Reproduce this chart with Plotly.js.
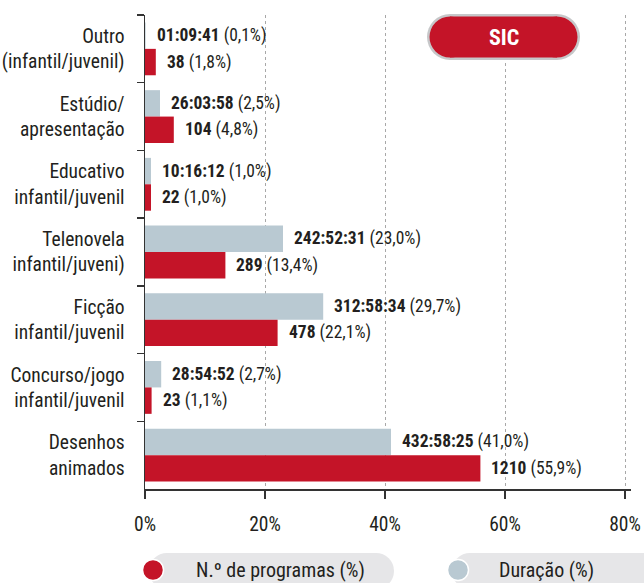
<!DOCTYPE html>
<html>
<head>
<meta charset="utf-8">
<script src="https://cdn.plot.ly/plotly-3.0.1.min.js"></script>
<style>
html,body{margin:0;padding:0;background:#fff;}
#chart{width:644px;height:583px;}
</style>
</head>
<body>
<div id="chart"></div>
<script>
const categories = [
  "Outro<br>(infantil/juvenil)",
  "Estúdio/<br>apresentação",
  "Educativo<br>infantil/juvenil",
  "Telenovela<br>infantil/juveni)",
  "Ficção<br>infantil/juvenil",
  "Concurso/jogo<br>infantil/juvenil",
  "Desenhos<br>animados"
];
const durationPct = [0.1, 2.5, 1.0, 23.0, 29.7, 2.7, 41.0];
const durationTime = ["01:09:41", "26:03:58", "10:16:12", "242:52:31", "312:58:34", "28:54:52", "432:58:25"];
const programsPct = [1.8, 4.8, 1.0, 13.4, 22.1, 1.1, 55.9];
const programsCount = [38, 104, 22, 289, 478, 23, 1210];
const xTicks = [0, 20, 40, 60, 80];
const xTickLabels = ["0%", "20%", "40%", "60%", "80%"];
const legendNames = ["N.º de programas (%)", "Duração (%)"];
const badgeText = "SIC";

const FONT = '"Roboto Condensed", "DejaVu Sans Condensed", sans-serif';
const TXT = '#231f20';
const RED = '#c41428';
const BLUE = '#b9c9d2';

const W = 644, H = 583;
const M = {l: 145, r: 13, t: 15, b: 94};
const PW = W - M.l - M.r, PH = H - M.t - M.b;
const px = x => (x - M.l) / PW;
const py = y => (H - M.b - y) / PH;
const fmt = v => v.toFixed(1).replace('.', ',');

const traces = [
  {type: 'bar', orientation: 'h', y: categories, x: durationPct, name: legendNames[1],
   marker: {color: BLUE}, hoverinfo: 'skip'},
  {type: 'bar', orientation: 'h', y: categories, x: programsPct, name: legendNames[0],
   marker: {color: RED}, hoverinfo: 'skip'}
];

const annotations = [];
categories.forEach((c, i) => {
  annotations.push({x: durationPct[i], y: c, xref: 'x', yref: 'y', xanchor: 'left', yanchor: 'middle',
    xshift: 9, yshift: 13.2, showarrow: false,
    text: '<b>' + durationTime[i] + '</b> (' + fmt(durationPct[i]) + '%)',
    font: {family: FONT, size: 17.5, color: TXT}});
  annotations.push({x: programsPct[i], y: c, xref: 'x', yref: 'y', xanchor: 'left', yanchor: 'middle',
    xshift: 9, yshift: -13.2, showarrow: false,
    text: '<b>' + programsCount[i] + '</b> (' + fmt(programsPct[i]) + '%)',
    font: {family: FONT, size: 17.5, color: TXT}});
});

annotations.push({x: px(503.5), y: py(37.5), xref: 'paper', yref: 'paper', xanchor: 'center', yanchor: 'middle',
  showarrow: false, text: '<b>' + badgeText + '</b>', font: {family: FONT, size: 22, color: '#ffffff'}});
annotations.push({x: px(194), y: py(570), xref: 'paper', yref: 'paper', xanchor: 'left', yanchor: 'middle',
  showarrow: false, text: legendNames[0], font: {family: FONT, size: 20, color: TXT}});
annotations.push({x: px(497), y: py(570), xref: 'paper', yref: 'paper', xanchor: 'left', yanchor: 'middle',
  showarrow: false, text: legendNames[1], font: {family: FONT, size: 20, color: TXT}});

function pill(x0, x1, y0, y1, color) {
  const r = (y1 - y0) / 2;
  const cy = (y0 + y1) / 2;
  const base = {xref: 'paper', yref: 'paper', xsizemode: 'pixel', ysizemode: 'pixel',
    line: {width: 0}, fillcolor: color, layer: 'above'};
  return [
    Object.assign({}, base, {type: 'circle', xanchor: px(x0 + r), yanchor: py(cy), x0: -r, x1: r, y0: -r, y1: r}),
    Object.assign({}, base, {type: 'circle', xanchor: px(x1 - r), yanchor: py(cy), x0: -r, x1: r, y0: -r, y1: r}),
    Object.assign({}, base, {type: 'rect', xanchor: px(x0 + r), yanchor: py(cy), x0: 0, x1: (x1 - x0 - 2 * r), y0: -r, y1: r})
  ];
}
function dot(cx, cy, r, color) {
  return {type: 'circle', xref: 'paper', yref: 'paper', xsizemode: 'pixel', ysizemode: 'pixel',
    xanchor: px(cx), yanchor: py(cy), x0: -r, x1: r, y0: -r, y1: r,
    fillcolor: color, line: {width: 1.5, color: '#ffffff'}, layer: 'above'};
}

const shapes = [].concat(
  pill(427, 580, 14, 60, '#c6c7c9'),
  pill(429.5, 577.5, 16.5, 57.5, RED),
  pill(149, 394, 553, 589, '#e6e6e8'),
  pill(452, 660, 553, 589, '#e6e6e8'),
  [dot(153, 570, 10.5, RED), dot(458, 570, 10.5, BLUE)]
);

const layout = {
  width: W, height: H,
  margin: M,
  paper_bgcolor: '#ffffff', plot_bgcolor: '#ffffff',
  showlegend: false,
  barmode: 'group', bargap: 0.22, bargroupgap: 0,
  font: {family: FONT, color: TXT},
  xaxis: {
    range: [0, 81], tickvals: xTicks, ticktext: xTickLabels,
    showgrid: true, gridcolor: '#a8a8a8', griddash: 'dot', gridwidth: 1,
    zeroline: false, showline: true, linecolor: '#333333', linewidth: 1.5,
    ticks: 'outside', ticklen: 8, tickcolor: '#333333', tickwidth: 1.5,
    tickfont: {family: FONT, size: 19.5, color: TXT}, ticklabelstandoff: 9,
    fixedrange: true
  },
  yaxis: {
    type: 'category', autorange: 'reversed',
    showgrid: false, zeroline: false, showline: true, linecolor: '#333333', linewidth: 1.5,
    ticks: 'outside', tickson: 'boundaries', ticklen: 7, tickcolor: '#333333', tickwidth: 1.5,
    tickfont: {family: FONT, size: 19.5, color: TXT}, ticklabelstandoff: 15,
    fixedrange: true
  },
  shapes: shapes,
  annotations: annotations
};

Plotly.newPlot('chart', traces, layout, {staticPlot: true, displayModeBar: false});
</script>
</body>
</html>
